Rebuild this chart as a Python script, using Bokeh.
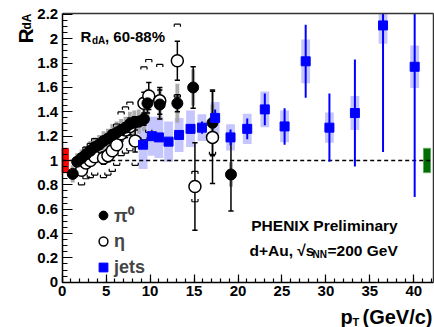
import numpy as np
from bokeh.plotting import figure
from bokeh.models import (Range1d, FixedTicker, Label, Legend, LegendItem, LinearAxis)
from bokeh.embed import file_html
from bokeh.resources import INLINE

# ---------------- data ----------------
pi0_pt   = [1.2, 1.7, 2.2, 2.7, 3.2, 3.7, 4.2, 4.7, 5.2, 5.7, 6.2, 6.7, 7.2, 7.7,
            8.2, 8.7, 9.3, 9.7, 11.1, 13.1, 14.9, 17.1, 19.2]
pi0_r    = [0.89, 0.99, 1.02, 1.05, 1.08, 1.11, 1.13, 1.16, 1.18, 1.21, 1.23, 1.25,
            1.27, 1.30, 1.31, 1.32, 1.34, 1.47, 1.46, 1.47, 1.60, 1.31, 0.885]
pi0_stat = [0.01, 0.01, 0.01, 0.01, 0.01, 0.01, 0.01, 0.02, 0.02, 0.02, 0.02, 0.02,
            0.03, 0.03, 0.03, 0.04, 0.05, 0.08, 0.12, 0.07, 0.17, 0.27, 0.30]
pi0_sys  = [0.07, 0.07, 0.07, 0.07, 0.08, 0.08, 0.08, 0.08, 0.08, 0.09, 0.09, 0.09,
            0.09, 0.10, 0.10, 0.10, 0.10, 0.12, 0.13, 0.16, 0.15, 0.15, 0.10]

eta_pt   = [2.2, 2.7, 3.2, 3.7, 4.7, 5.2, 5.7, 6.2, 6.7, 7.2, 7.7, 8.3, 9.3, 9.85,
            11.1, 13.1, 15.1, 17.1]
eta_r    = [0.92, 0.98, 1.00, 1.03, 1.02, 1.04, 1.08, 1.13, 1.22, 1.25, 1.28, 1.16,
            1.47, 1.53, 1.49, 1.82, 0.786, 1.19]
eta_stat = [0.03, 0.03, 0.03, 0.03, 0.05, 0.05, 0.05, 0.05, 0.06, 0.06, 0.07, 0.09,
            0.09, 0.11, 0.11, 0.16, 0.36, 0.38]
eta_sys  = [0.12, 0.13, 0.14, 0.15, 0.16, 0.16, 0.17, 0.17, 0.18, 0.19, 0.20, 0.20,
            0.30, 0.30, 0.30, 0.30, 0.125, 0.14]

jet_pt   = [9.2, 10.2, 11.0, 12.1, 13.3, 14.6, 15.9, 17.4, 19.15, 21.05, 23.05,
            25.3, 27.7, 30.4, 33.3, 36.5, 40.1]
jet_r    = [1.13, 1.20, 1.19, 1.155, 1.21, 1.26, 1.27, 1.35, 1.19, 1.26, 1.42,
            1.28, 1.815, 1.27, 1.39, 2.11, 1.77]
jet_stat = [0.03, 0.03, 0.03, 0.03, 0.04, 0.04, 0.05, 0.07, 0.065, 0.085, 0.13,
            0.15, 0.30, 0.28, 0.44, 1.04, 1.07]
jet_sys  = [0.20, 0.16, 0.17, 0.165, 0.14, 0.15, 0.11, 0.13, 0.107, 0.125, 0.146,
            0.13, 0.18, 0.125, 0.14, 0.15, 0.175]

# global normalisation uncertainty boxes (pi0/eta: red, jets: green)
norm_left   = [0.0, 41.1]
norm_right  = [0.7, 41.9]
norm_bottom = [0.90, 0.90]
norm_top    = [1.10, 1.10]
norm_color  = ["#ff0000", "#006e00"]
norm_line   = ["#ff0000", "#5fa85f"]

ref_level = 1.0
x_min, x_max = 0.0, 42.2
y_min, y_max = 0.0, 2.21

x_ticks = [0, 5, 10, 15, 20, 25, 30, 35, 40]
y_ticks = [0, 0.2, 0.4, 0.6, 0.8, 1.0, 1.2, 1.4, 1.6, 1.8, 2.0, 2.2]
y_tick_labels = ["0", "0.2", "0.4", "0.6", "0.8", "1", "1.2", "1.4", "1.6", "1.8", "2", "2.2"]

FONT = "Liberation Sans"
W, H = 434, 327

# pixel <-> data mapping of the canvas (frame covers whole canvas, axes fixed inside)
PX0, PXS = 61.7, 8.79     # px of x=0, px per GeV
PY0, PYS = 281.7, 121.7   # px of y=0, px per unit


def X(px):
    return (px - PX0) / PXS


def Y(py):
    return (PY0 - py) / PYS


# ---------------- figure ----------------
p = figure(width=W, height=H, title=None,
           x_range=Range1d(X(0), X(W)), y_range=Range1d(Y(H), Y(0)),
           output_backend="svg", toolbar_location=None,
           min_border_left=0, min_border_right=0, min_border_top=0, min_border_bottom=0)
p.xgrid.visible = False
p.ygrid.visible = False
p.outline_line_color = None
p.background_fill_color = "white"
p.border_fill_color = "white"

p.xaxis.fixed_location = y_min
p.yaxis.fixed_location = x_min
p.xaxis.bounds = (x_min, x_max)
p.yaxis.bounds = (y_min, y_max)
p.xaxis.ticker = FixedTicker(ticks=x_ticks, minor_ticks=list(range(0, 43)))
p.yaxis.ticker = FixedTicker(ticks=y_ticks,
                             minor_ticks=[round(v, 3) for v in np.arange(0, 2.21, 0.05)])
p.yaxis.major_label_overrides = {t: l for t, l in zip(y_ticks, y_tick_labels)}
for ax in (p.xaxis, p.yaxis):
    ax.axis_line_width = 1.5
    ax.axis_line_color = "black"
    ax.major_tick_out = 0
    ax.minor_tick_out = 0
    ax.major_tick_line_color = "black"
    ax.minor_tick_line_color = "black"
    ax.major_tick_line_width = 1.2
    ax.minor_tick_line_width = 1.2
    ax.major_label_text_font = FONT
    ax.major_label_text_font_style = "bold"
    ax.major_label_text_font_size = "15px"
    ax.major_label_text_color = "black"
    ax.major_label_standoff = 4
p.xaxis.major_tick_in = 8
p.xaxis.minor_tick_in = 4
p.yaxis.major_tick_in = 10
p.yaxis.minor_tick_in = 5

# frame lines at top and right
top_ax = LinearAxis(fixed_location=y_max, bounds=(x_min, x_max), ticker=FixedTicker(ticks=[]),
                    axis_line_width=1.5, axis_line_color="#333333",
                    major_tick_line_color=None, minor_tick_line_color=None,
                    major_label_text_font_size="0px")
right_ax = LinearAxis(fixed_location=x_max, bounds=(y_min, y_max), ticker=FixedTicker(ticks=[]),
                      axis_line_width=1.5, axis_line_color="#333333",
                      major_tick_line_color=None, minor_tick_line_color=None,
                      major_label_text_font_size="0px")
p.add_layout(top_ax, "above")
p.add_layout(right_ax, "right")

# ---------------- arrays ----------------
pt = np.array(pi0_pt); pr = np.array(pi0_r); pst = np.array(pi0_stat); psy = np.array(pi0_sys)
et = np.array(eta_pt); er = np.array(eta_r); est = np.array(eta_stat); esy = np.array(eta_sys)
jt = np.array(jet_pt); jr = np.array(jet_r); jst = np.array(jet_stat); jsy = np.array(jet_sys)

# normalisation boxes
p.quad(left=norm_left, right=norm_right, bottom=norm_bottom, top=norm_top,
       fill_color=norm_color, line_color=norm_line, line_width=1)

# jets systematic boxes (clipped at the frame top)
p.quad(left=jt - 0.5, right=jt + 0.5, bottom=jr - jsy, top=np.minimum(jr + jsy, y_max),
       fill_color="#c6c6ff", line_color=None)

# pi0 systematic boxes
p.quad(left=pt - 0.22, right=pt + 0.22, bottom=pr - psy, top=pr + psy,
       fill_color="#a3a3a3", line_color=None, fill_alpha=0.9)

# dashed line at R = 1
p.line(x=[x_min, x_max], y=[ref_level, ref_level], line_color="black",
       line_width=1.3, line_dash="4 3")

# eta systematic brackets
bw = 0.35
tk = 0.022
eh_y = np.concatenate([er + esy, er - esy])
p.segment(x0=np.concatenate([et - bw, et - bw]), y0=eh_y,
          x1=np.concatenate([et + bw, et + bw]), y1=eh_y, line_color="black", line_width=1.2)
ev_x = np.concatenate([et - bw, et + bw, et - bw, et + bw])
ev_y0 = np.concatenate([er + esy, er + esy, er - esy, er - esy])
ev_y1 = np.concatenate([er + esy - tk, er + esy - tk, er - esy + tk, er - esy + tk])
p.segment(x0=ev_x, y0=ev_y0, x1=ev_x, y1=ev_y1, line_color="black", line_width=1.2)

# stat error bars: pi0 and eta (black, with caps)
cw = 0.3
for x, y, s in ((pt, pr, pst), (et, er, est)):
    p.segment(x0=x, y0=y - s, x1=x, y1=y + s, line_color="black", line_width=1.5)
    p.segment(x0=np.concatenate([x - cw, x - cw]), y0=np.concatenate([y + s, y - s]),
              x1=np.concatenate([x + cw, x + cw]), y1=np.concatenate([y + s, y - s]),
              line_color="black", line_width=1.5)

# jets stat bars (clipped at the frame top)
p.segment(x0=jt, y0=jr - jst, x1=jt, y1=np.minimum(jr + jst, y_max),
          line_color="#0000ff", line_width=2)

# markers
eta_m = p.scatter(et, er, marker="circle", size=12, fill_color="white",
                  line_color="black", line_width=1.5)
pi0_m = p.scatter(pt, pr, marker="circle", size=11, fill_color="black", line_color="black")
jet_m = p.scatter(jt, jr, marker="square", size=9, fill_color="#0000ff", line_color="#0000ff")

legend = Legend(items=[LegendItem(label="π⁰", renderers=[pi0_m]),
                       LegendItem(label="η", renderers=[eta_m]),
                       LegendItem(label="jets", renderers=[jet_m])],
                location=(92, H - 202 - 78), orientation="vertical",
                background_fill_alpha=0, border_line_alpha=0, padding=0, margin=0,
                spacing=0, glyph_width=22, glyph_height=26, label_height=26,
                label_standoff=0, label_text_font=FONT, label_text_font_style="bold",
                label_text_font_size="18px", label_text_baseline="middle")
p.add_layout(legend)

# ---------------- texts ----------------
def lab(text, px, py, size, align="left", angle=0.0, style="bold"):
    p.add_layout(Label(x=X(px), y=Y(py), text=text, text_font=FONT, text_font_style=style,
                       text_font_size=size, text_align=align, text_baseline="alphabetic",
                       angle=angle, text_color="black"))

# y axis title R_dA (rotated)
lab("R", 25, 43, "21px", angle=np.pi / 2)
lab("dA", 26, 29, "12px", angle=np.pi / 2)
# x axis title p_T (GeV/c)
lab("p", 340, 316, "20px")
lab("T", 352, 321, "11px")
lab("(GeV/c)", 432, 316, "20px", align="right")
# in-frame title
lab("R", 80, 36, "15px")
lab("dA", 91.5, 40, "10px")
lab(", 60-88%", 104.5, 36, "15px")
# experiment labels
lab("PHENIX Preliminary", 324, 225, "15.5px", align="center")
lab("d+Au, √s", 249, 250, "15.5px")
lab("NN", 312, 253.5, "10px")
lab("=200 GeV", 327, 250, "15.5px")

open("out.html", "w").write(file_html(p, INLINE))
